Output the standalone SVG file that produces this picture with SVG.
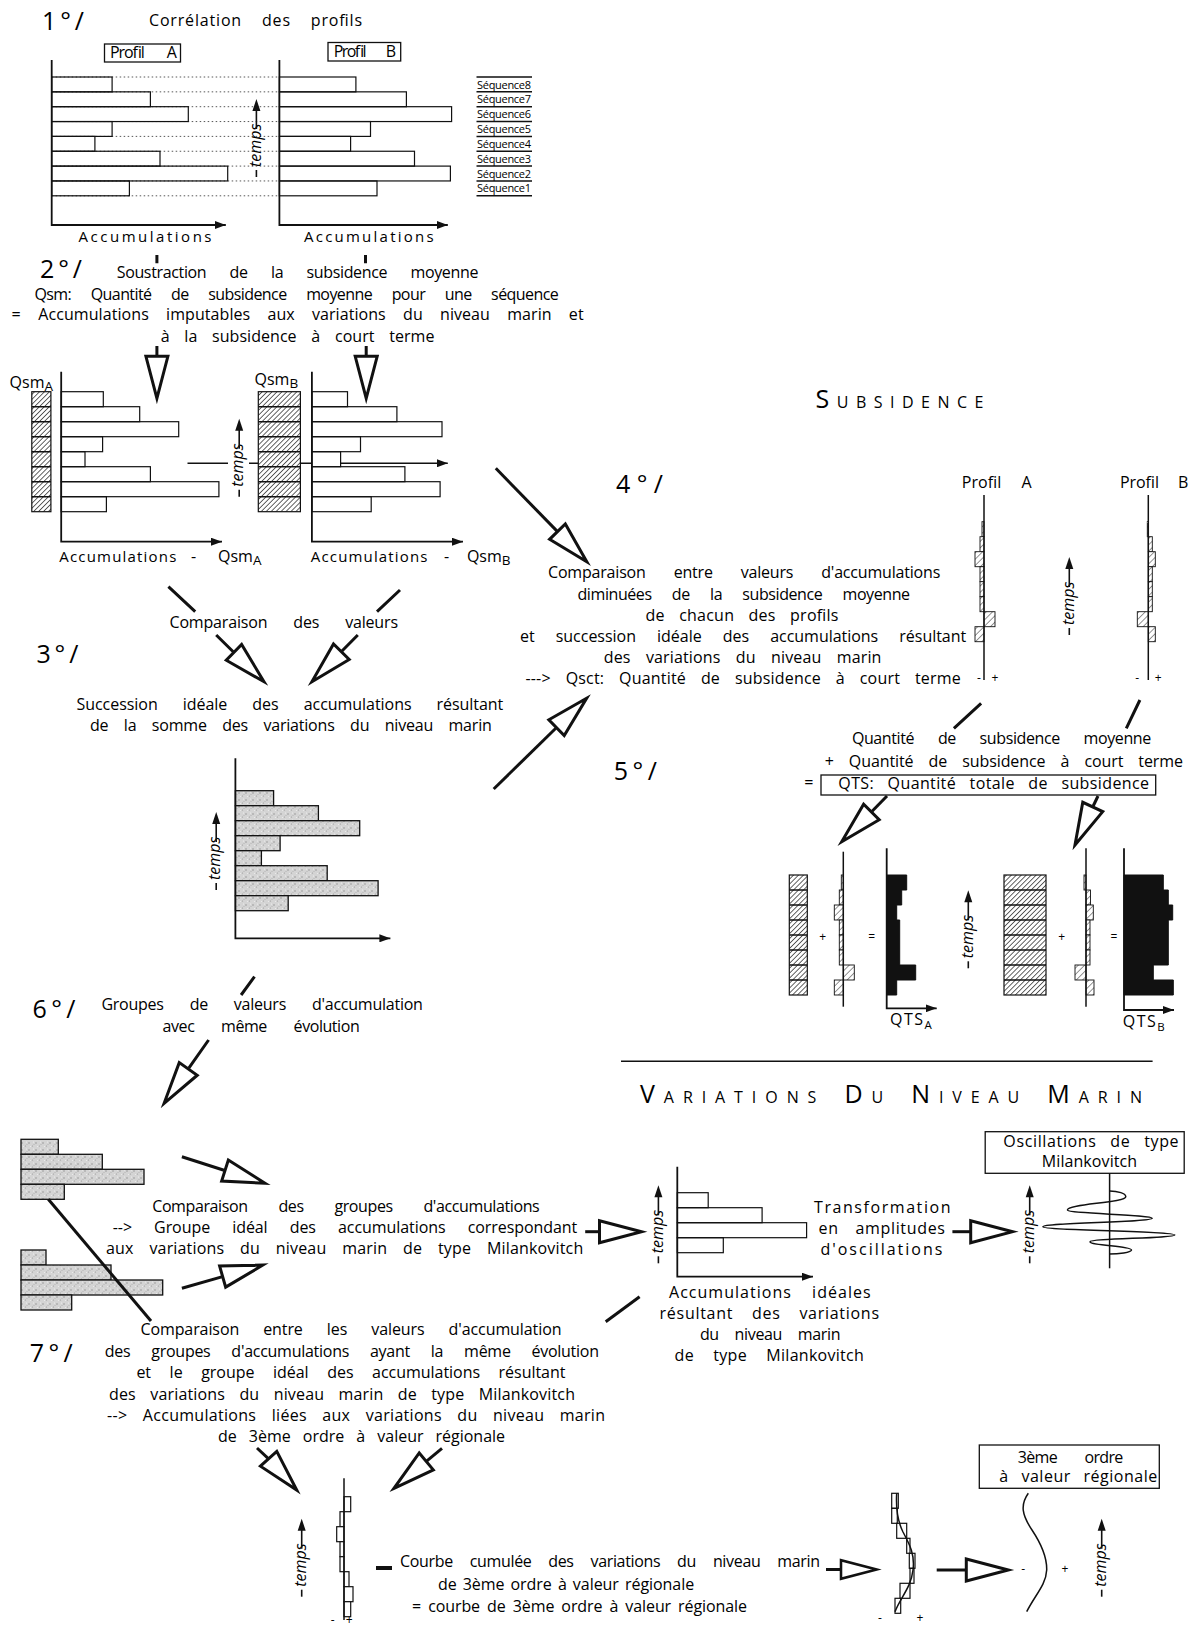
<svg xmlns="http://www.w3.org/2000/svg" width="1191" height="1628" viewBox="0 0 1191 1628">
<style>
text{font-family:'Open Sans','DejaVu Sans',sans-serif;font-size:16px;fill:#000}
.big{font-size:25px}
.s12{font-size:12px}
.s11{font-size:11px}
.acc{font-size:15px}
.ln{stroke:#111;stroke-width:1.5;fill:none}
.th{stroke:#111;stroke-width:3;fill:none}
.ax{stroke:#111;stroke-width:1.8;fill:none}
.bar{fill:none;stroke:#111;stroke-width:1.2}
.wbar{fill:#fff;stroke:#111;stroke-width:1.2}
.gbar{fill:url(#st);stroke:#111;stroke-width:1.3}
.hd{fill:url(#hd);stroke:#111;stroke-width:1.2}
.hs{fill:url(#hs);stroke:#111;stroke-width:0.9}
.dot{stroke:#444;stroke-width:0.9;stroke-dasharray:1.5 2.5;fill:none}
.box{fill:none;stroke:#111;stroke-width:1.3}
.sep{stroke:#111;stroke-width:1.6}
.blk{fill:#111;stroke:#111;stroke-width:1}
</style>
<defs>
<marker id="ar" viewBox="0 0 11 8" refX="11" refY="4" markerWidth="11" markerHeight="8" markerUnits="userSpaceOnUse" orient="auto"><path d="M0,0 L11,4 L0,8 Z" fill="#111"/></marker>
<pattern id="hd" patternUnits="userSpaceOnUse" width="3.5" height="3.5" patternTransform="rotate(45)"><rect width="3.5" height="3.5" fill="#fff"/><line x1="0" y1="0" x2="0" y2="3.5" stroke="#111" stroke-width="1.3"/></pattern>
<pattern id="hs" patternUnits="userSpaceOnUse" width="4.5" height="4.5" patternTransform="rotate(45)"><rect width="4.5" height="4.5" fill="#fff"/><line x1="0" y1="0" x2="0" y2="4.5" stroke="#111" stroke-width="0.9"/></pattern>
<pattern id="st" patternUnits="userSpaceOnUse" width="7" height="7"><rect width="7" height="7" fill="#d4d4d4"/><circle cx="1" cy="2" r="0.7" fill="#8a8a8a"/><circle cx="4.5" cy="5" r="0.6" fill="#9a9a9a"/><circle cx="5.5" cy="1" r="0.6" fill="#f4f4f4"/><circle cx="2.5" cy="5.5" r="0.6" fill="#eee"/><circle cx="6" cy="3.5" r="0.5" fill="#aaa"/></pattern>
<g id="tp">
<line x1="0" y1="0" x2="0" y2="-7" stroke="#111" stroke-width="1.6"/>
<text transform="rotate(-90)" x="10" y="4.2" font-family="'Open Sans','DejaVu Sans',sans-serif" font-size="12" font-style="italic" fill="#111">temps</text>
<line x1="0" y1="-48" x2="0" y2="-68" stroke="#111" stroke-width="1.6"/>
<path d="M0,-78 L-4,-66 L4,-66 Z" fill="#111"/>
</g>
<polygon id="ha" points="0,0 -42,-11 -42,11" fill="#fff" stroke="#111" stroke-width="3" stroke-linejoin="miter"/>
</defs>
<rect width="1191" height="1628" fill="#fff"/>

<!-- STEP 1 -->
<g id="step1">
<text class="big" x="42" y="30" textLength="42">1°/</text>
<text x="149" y="26" textLength="213" style="word-spacing:15px">Corrélation des profils</text>
</g>
<g id="profilA1">
<rect class="box" x="104.5" y="44" width="76" height="18"/>
<text font-size="13" x="110" y="57.5" textLength="66.8" style="word-spacing:20px">Profil A</text>
<g class="dot">
<path d="M51.7,77H279.4M51.7,91.85H279.4M51.7,106.7H279.4M51.7,121.55H279.4M51.7,136.4H279.4M51.7,151.25H279.4M51.7,166.1H279.4M51.7,180.95H279.4M51.7,195.8H279.4"/>
</g>
<g class="bar">
<rect x="51.7" y="77" width="60.4" height="14.85"/>
<rect x="51.7" y="91.85" width="98.7" height="14.85"/>
<rect x="51.7" y="106.7" width="136.6" height="14.85"/>
<rect x="51.7" y="121.55" width="60.4" height="14.85"/>
<rect x="51.7" y="136.4" width="43.2" height="14.85"/>
<rect x="51.7" y="151.25" width="108.3" height="14.85"/>
<rect x="51.7" y="166.1" width="176" height="14.85"/>
<rect x="51.7" y="180.95" width="77.7" height="14.85"/>
</g>
<path class="ax" d="M51.7,60V225H225.8" marker-end="url(#ar)"/>
<text class="acc" x="78.5" y="242.3" textLength="133">Accumulations</text>
</g>
<g id="profilB1">
<rect class="box" x="328" y="42.5" width="72.7" height="18.5"/>
<text font-size="13" x="333.7" y="56.5" textLength="62.3" style="word-spacing:18px">Profil B</text>
<g class="bar">
<rect x="279.4" y="77" width="76.5" height="14.85"/>
<rect x="279.4" y="91.85" width="127" height="14.85"/>
<rect x="279.4" y="106.7" width="172.2" height="14.85"/>
<rect x="279.4" y="121.55" width="91.1" height="14.85"/>
<rect x="279.4" y="136.4" width="71.2" height="14.85"/>
<rect x="279.4" y="151.25" width="135.1" height="14.85"/>
<rect x="279.4" y="166.1" width="171" height="14.85"/>
<rect x="279.4" y="180.95" width="97.6" height="14.85"/>
</g>
<path class="ax" d="M279.4,60V225H447.8" marker-end="url(#ar)"/>
<text class="acc" x="304" y="242.3" textLength="129.6">Accumulations</text>
<use href="#tp" x="256.4" y="177"/>
</g>
<g id="sequences">
<path class="ln" stroke-width="1.3" d="M476.5,77H532M476.5,91.85H532M476.5,106.7H532M476.5,121.55H532M476.5,136.4H532M476.5,151.25H532M476.5,166.1H532M476.5,180.95H532M476.5,195.8H532"/>
<text class="s11" x="477" y="88.5" textLength="54">Séquence8</text>
<text class="s11" x="477" y="103.3" textLength="54">Séquence7</text>
<text class="s11" x="477" y="118.2" textLength="54">Séquence6</text>
<text class="s11" x="477" y="133" textLength="54">Séquence5</text>
<text class="s11" x="477" y="147.9" textLength="54">Séquence4</text>
<text class="s11" x="477" y="162.7" textLength="54">Séquence3</text>
<text class="s11" x="477" y="177.6" textLength="54">Séquence2</text>
<text class="s11" x="477" y="192.4" textLength="54">Séquence1</text>
</g>

<!-- STEP 2 -->
<g id="step2">
<text class="big" x="40" y="277.5" textLength="42">2°/</text>
<text x="116.7" y="278.3" textLength="361.7" style="word-spacing:19.5px">Soustraction de la subsidence moyenne</text>
<text x="34.4" y="299.8" textLength="524.3" style="word-spacing:16px">Qsm: Quantité de subsidence moyenne pour une séquence</text>
<text x="11.5" y="320">=</text>
<text x="38.3" y="320" textLength="545.3" style="word-spacing:13px">Accumulations imputables aux variations du niveau marin et</text>
<text x="160.7" y="341.7" textLength="273.7" style="word-spacing:10.5px">à la subsidence à court terme</text>
</g>
<g id="profilA2">
<text x="9.6" y="388.3" font-size="16">Qsm<tspan font-size="13.5" dy="3">A</tspan></text>
<rect class="hd" x="31.8" y="391.7" width="19.1" height="120"/>
<path class="ln" d="M31.8,406.7H50.9M31.8,421.7H50.9M31.8,436.7H50.9M31.8,451.7H50.9M31.8,466.7H50.9M31.8,481.7H50.9M31.8,496.7H50.9"/>
<g class="bar">
<rect x="61.2" y="391.7" width="42.1" height="15"/>
<rect x="61.2" y="406.7" width="78.5" height="15"/>
<rect x="61.2" y="421.7" width="117.5" height="15"/>
<rect x="61.2" y="436.7" width="41.4" height="15"/>
<rect x="61.2" y="451.7" width="23.8" height="15"/>
<rect x="61.2" y="466.7" width="89.2" height="15"/>
<rect x="61.2" y="481.7" width="157.7" height="15"/>
<rect x="61.2" y="496.7" width="45.2" height="15"/>
</g>
<path class="ax" d="M61.2,371.7V541.7H222" marker-end="url(#ar)"/>
<text class="acc" x="59.3" y="561.7" textLength="117">Accumulations</text>
<text x="191" y="561.7">-</text>
<text x="218" y="561.7" font-size="16">Qsm<tspan font-size="13.5" dy="3.5">A</tspan></text>
<use href="#tp" x="239.2" y="496.7"/>
</g>
<g id="profilB2">
<text x="254.5" y="385" font-size="16">Qsm<tspan font-size="13.5" dy="3">B</tspan></text>
<rect class="hd" x="258.3" y="391.7" width="42.1" height="120"/>
<path class="ln" d="M258.3,406.7H300.4M258.3,421.7H300.4M258.3,436.7H300.4M258.3,451.7H300.4M258.3,466.7H300.4M258.3,481.7H300.4M258.3,496.7H300.4"/>
<g class="bar">
<rect x="311.9" y="391.7" width="35.6" height="15"/>
<rect x="311.9" y="406.7" width="85" height="15"/>
<rect x="311.9" y="421.7" width="130.1" height="15"/>
<rect x="311.9" y="436.7" width="48.6" height="15"/>
<rect x="311.9" y="451.7" width="28.7" height="15"/>
<rect x="311.9" y="466.7" width="93" height="15"/>
<rect x="311.9" y="481.7" width="128.2" height="15"/>
<rect x="311.9" y="496.7" width="59.3" height="15"/>
</g>
<path class="ax" d="M311.9,371.7V541.7H463" marker-end="url(#ar)"/>
<text class="acc" x="310.8" y="561.7" textLength="116.7">Accumulations</text>
<text x="444" y="561.7">-</text>
<text x="466.9" y="561.7" font-size="16">Qsm<tspan font-size="13.5" dy="3.5">B</tspan></text>
</g>

<!-- STEP 3 -->
<g id="step3">
<text x="169.5" y="628.3" textLength="228.5" style="word-spacing:22px">Comparaison des valeurs</text>
<text class="big" x="36.4" y="663.3" textLength="42">3°/</text>
<text x="76.5" y="710" textLength="426.8" style="word-spacing:21px">Succession idéale des accumulations résultant</text>
<text x="90" y="731" textLength="401.8" style="word-spacing:11.5px">de la somme des variations du niveau marin</text>
</g>
<g id="ideal3">
<g class="gbar">
<rect x="235.4" y="790.7" width="38.2" height="15"/>
<rect x="235.4" y="805.7" width="83" height="15"/>
<rect x="235.4" y="820.7" width="124.3" height="15"/>
<rect x="235.4" y="835.7" width="44.7" height="15"/>
<rect x="235.4" y="850.7" width="26" height="15"/>
<rect x="235.4" y="865.7" width="91.8" height="15"/>
<rect x="235.4" y="880.7" width="142.7" height="15"/>
<rect x="235.4" y="895.7" width="52.8" height="15"/>
</g>
<path class="ax" d="M235.4,758.3V938.3H390.4" marker-end="url(#ar)"/>
<use href="#tp" x="216.2" y="890"/>
</g>

<!-- STEP 4 -->
<g id="subsidence-title">
<text x="815.6" y="408.3" font-size="19" textLength="167.8"><tspan font-size="25">S</tspan>UBSIDENCE</text>
</g>
<g id="step4">
<text class="big" x="616" y="493.3" textLength="47">4°/</text>
<text x="548" y="578.3" textLength="392.3" style="word-spacing:24px">Comparaison entre valeurs d'accumulations</text>
<text x="577.5" y="600" textLength="332.5" style="word-spacing:16.5px">diminuées de la subsidence moyenne</text>
<text x="645.5" y="620.7" textLength="192.8" style="word-spacing:10px">de chacun des profils</text>
<text x="520" y="641.7" textLength="446.2" style="word-spacing:17px">et succession idéale des accumulations résultant</text>
<text x="603.8" y="662.7" textLength="277.6" style="word-spacing:11px">des variations du niveau marin</text>
<text x="525.4" y="684.3" textLength="435.3" style="word-spacing:10.5px">---&gt; Qsct: Quantité de subsidence à court terme</text>
</g>
<g id="qsctA4">
<text x="961.7" y="488.3" textLength="70" style="word-spacing:16px">Profil A</text>
<g class="hs">
<rect x="982" y="521.7" width="2" height="15"/>
<rect x="980" y="536.7" width="4" height="15"/>
<rect x="975" y="551.7" width="9" height="15"/>
<rect x="980" y="566.7" width="4" height="15"/>
<rect x="980" y="581.7" width="4" height="15"/>
<rect x="980" y="596.7" width="4" height="15"/>
<rect x="984" y="611.7" width="11" height="15"/>
<rect x="975" y="626.7" width="9" height="15"/>
</g>
<line class="ln" x1="984" y1="495" x2="984" y2="680"/>
<text class="s12" x="979" y="681.7" text-anchor="middle">-</text>
<text class="s12" x="995" y="681.7" text-anchor="middle">+</text>
</g>
<g id="qsctB4">
<text x="1120" y="488.3" textLength="68.3" style="word-spacing:15px">Profil B</text>
<g class="hs">
<rect x="1147.3" y="521.7" width="1" height="15"/>
<rect x="1148.3" y="536.7" width="4" height="15"/>
<rect x="1148.3" y="551.7" width="7" height="15"/>
<rect x="1148.3" y="566.7" width="4" height="15"/>
<rect x="1148.3" y="581.7" width="4" height="15"/>
<rect x="1148.3" y="596.7" width="4" height="15"/>
<rect x="1137.3" y="611.7" width="11" height="15"/>
<rect x="1148.3" y="626.7" width="7" height="15"/>
</g>
<line class="ln" x1="1148.3" y1="495" x2="1148.3" y2="680"/>
<text class="s12" x="1137.3" y="681.7" text-anchor="middle">-</text>
<text class="s12" x="1158.3" y="681.7" text-anchor="middle">+</text>
<use href="#tp" x="1069.3" y="635"/>
</g>

<!-- STEP 5 -->
<g id="step5">
<text class="big" x="613.8" y="780" textLength="43">5°/</text>
<text x="851.9" y="744.3" textLength="299.3" style="word-spacing:20px">Quantité de subsidence moyenne</text>
<text x="824.7" y="766.7" textLength="358.3" style="word-spacing:11px">+ Quantité de subsidence à court terme</text>
<text x="804.3" y="788.3">=</text>
<rect class="box" x="821" y="775" width="334.7" height="20" stroke-width="1"/>
<text x="838.3" y="788.8" textLength="310.7" style="word-spacing:9px">QTS: Quantité totale de subsidence</text>
</g>
<g id="qtsA">
<rect class="hd" x="789.3" y="875" width="18" height="120"/>
<path class="ln" d="M789.3,890H807.3M789.3,905H807.3M789.3,920H807.3M789.3,935H807.3M789.3,950H807.3M789.3,965H807.3M789.3,980H807.3"/>
<text class="s12" x="822.7" y="941" text-anchor="middle">+</text>
<g class="hs">
<rect x="841.3" y="875" width="2" height="15"/>
<rect x="839.3" y="890" width="4" height="15"/>
<rect x="834.3" y="905" width="9" height="15"/>
<rect x="839.3" y="920" width="4" height="15"/>
<rect x="839.3" y="935" width="4" height="15"/>
<rect x="839.3" y="950" width="4" height="15"/>
<rect x="843.3" y="965" width="11" height="15"/>
<rect x="834.3" y="980" width="9" height="15"/>
</g>
<line class="ln" x1="843.3" y1="851.7" x2="843.3" y2="1006.7"/>
<text class="s12" x="871.7" y="941" text-anchor="middle">=</text>
<path class="blk" d="M886.7,875H906.7V890H901.7V905H896.7V920H899.7V965H915.7V980H896.7V995H886.7Z"/>
<path class="ax" d="M886.7,848.3V1008.3H936.7" marker-end="url(#ar)"/>
<text x="890" y="1025" font-size="12.5" letter-spacing="1.5">QTS<tspan font-size="11.5" dy="4">A</tspan></text>
<use href="#tp" x="968.3" y="968.3"/>
</g>
<g id="qtsB">
<rect class="hd" x="1004" y="875" width="42" height="120"/>
<path class="ln" d="M1004,890H1046M1004,905H1046M1004,920H1046M1004,935H1046M1004,950H1046M1004,965H1046M1004,980H1046"/>
<text class="s12" x="1061.7" y="941" text-anchor="middle">+</text>
<g class="hs">
<rect x="1084" y="875" width="2" height="15"/>
<rect x="1086" y="890" width="4.5" height="15"/>
<rect x="1086" y="905" width="7.3" height="15"/>
<rect x="1086" y="920" width="4" height="15"/>
<rect x="1086" y="935" width="4" height="15"/>
<rect x="1086" y="950" width="4" height="15"/>
<rect x="1075" y="965" width="11" height="15"/>
<rect x="1086" y="980" width="8" height="15"/>
</g>
<line class="ln" x1="1086" y1="848.3" x2="1086" y2="1006.7"/>
<text class="s12" x="1114" y="941" text-anchor="middle">=</text>
<path class="blk" d="M1124,875H1163.3V890H1168.3V905H1172.7V920H1168.3V965H1153.3V980H1173.3V995H1124Z"/>
<path class="ax" d="M1124,848.3V1010H1174" marker-end="url(#ar)"/>
<text x="1122.7" y="1026.7" font-size="12.5" letter-spacing="1.5">QTS<tspan font-size="11.5" dy="4">B</tspan></text>
</g>

<!-- STEP 6 -->
<g id="step6">
<text class="big" x="32.5" y="1018.3" textLength="43">6°/</text>
<text x="101.4" y="1010" textLength="321.5" style="word-spacing:22px">Groupes de valeurs d'accumulation</text>
<text x="162.6" y="1031.7" textLength="197.1" style="word-spacing:23px">avec même évolution</text>
</g>
<line class="sep" x1="621" y1="1061.2" x2="1152.6" y2="1061.2"/>
<g id="variations-title">
<text x="640" y="1103" font-size="19" textLength="502" style="word-spacing:6px"><tspan font-size="25">V</tspan>ARIATIONS <tspan font-size="25">D</tspan>U <tspan font-size="25">N</tspan>IVEAU <tspan font-size="25">M</tspan>ARIN</text>
</g>
<g id="group1">
<g class="gbar">
<rect x="21" y="1139.3" width="37.3" height="15"/>
<rect x="21" y="1154.3" width="81.3" height="15"/>
<rect x="21" y="1169.3" width="123" height="15"/>
<rect x="21" y="1184.3" width="43.3" height="15"/>
</g>
</g>
<g id="group2">
<g class="gbar">
<rect x="21" y="1250" width="25" height="15"/>
<rect x="21" y="1265" width="90" height="15"/>
<rect x="21" y="1280" width="141.7" height="15"/>
<rect x="21" y="1295" width="50.7" height="15"/>
</g>
</g>
<g id="comparaison6">
<text x="152.2" y="1211.7" textLength="387.5" style="word-spacing:27px">Comparaison des groupes d'accumulations</text>
<text x="112.7" y="1233.3" textLength="464.6" style="word-spacing:18px">--&gt; Groupe idéal des accumulations correspondant</text>
<text x="106" y="1254" textLength="477.2" style="word-spacing:11.5px">aux variations du niveau marin de type Milankovitch</text>
</g>
<g id="milankovitch-acc">
<g class="bar">
<rect x="677.3" y="1192.7" width="30.9" height="15"/>
<rect x="677.3" y="1207.7" width="84.8" height="15"/>
<rect x="677.3" y="1222.7" width="129.3" height="15"/>
<rect x="677.3" y="1237.7" width="46" height="15"/>
</g>
<path class="ax" d="M677.3,1166.7V1276.7H813" marker-end="url(#ar)"/>
<use href="#tp" x="658.4" y="1263.3"/>
<text x="669" y="1298.3" textLength="201.6" style="word-spacing:15px">Accumulations idéales</text>
<text x="659.6" y="1319.3" textLength="219.4" style="word-spacing:14px">résultant des variations</text>
<text x="699.9" y="1340" textLength="140.6" style="word-spacing:12px">du niveau marin</text>
<text x="674.6" y="1361" textLength="189.2" style="word-spacing:15px">de type Milankovitch</text>
</g>
<g id="transformation">
<text x="814" y="1212.7" textLength="136.5">Transformation</text>
<text x="818.6" y="1234" textLength="126.3" style="word-spacing:12px">en amplitudes</text>
<text x="820.5" y="1255" textLength="121.8">d'oscillations</text>
</g>
<g id="oscillations">
<rect class="box" x="985.2" y="1131.7" width="199" height="41.6" stroke-width="1"/>
<text x="1003.3" y="1147.2" textLength="175.3" style="word-spacing:9px">Oscillations de type</text>
<text x="1041.8" y="1167.2" textLength="95.3">Milankovitch</text>
<line class="ln" x1="1109.6" y1="1173.3" x2="1109.6" y2="1268.3"/>
<path class="ln" d="M1109.6,1191 C1118,1191 1125.8,1193.5 1125.8,1196.7 C1125.8,1202.7 1067.4,1204 1067.4,1210 C1067.4,1213.7 1152.2,1214.6 1152.2,1218.3 C1152.2,1222.1 1042.9,1222.9 1042.9,1226.7 C1042.9,1230.4 1174.8,1231.3 1174.8,1235 C1174.8,1238 1090,1238.7 1090,1241.7 C1090,1245.4 1131.5,1246.3 1131.5,1250 C1131.5,1252.5 1118,1254 1109.6,1254"/>
<use href="#tp" x="1029.7" y="1263.3"/>
</g>

<!-- STEP 7 -->
<g id="step7">
<text x="140.4" y="1335" textLength="421.1" style="word-spacing:20px">Comparaison entre les valeurs d'accumulation</text>
<text class="big" x="29.7" y="1361.7" textLength="43">7°/</text>
<text x="104.8" y="1356.7" textLength="494.2" style="word-spacing:17px">des groupes d'accumulations ayant la même évolution</text>
<text x="136.4" y="1378.3" textLength="429" style="word-spacing:14.5px">et le groupe idéal des accumulations résultant</text>
<text x="109" y="1400" textLength="466" style="word-spacing:10px">des variations du niveau marin de type Milankovitch</text>
<text x="107" y="1421" textLength="498" style="word-spacing:11px">--&gt; Accumulations liées aux variations du niveau marin</text>
<text x="218" y="1442" textLength="287" style="word-spacing:8px">de 3ème ordre à valeur régionale</text>
</g>
<g id="column7">
<g class="wbar">
<rect x="344" y="1496.7" width="6.7" height="15"/>
<rect x="340" y="1511.7" width="4" height="15"/>
<rect x="336.7" y="1526.7" width="7.3" height="15"/>
<rect x="340" y="1541.7" width="4" height="15"/>
<rect x="340" y="1556.7" width="4" height="15"/>
<rect x="344" y="1571.7" width="5" height="15"/>
<rect x="344" y="1586.7" width="9" height="15"/>
<rect x="344" y="1601.7" width="6.7" height="15"/>
</g>
<line class="ln" x1="344" y1="1478.3" x2="344" y2="1620"/>
<text class="s12" x="332.7" y="1624" text-anchor="middle">-</text>
<text class="s12" x="349.3" y="1624" text-anchor="middle">+</text>
<use href="#tp" x="301.7" y="1596.7"/>
<rect x="376" y="1566" width="16" height="4" fill="#111"/>
</g>
<g id="courbe">
<text x="400" y="1566.7" textLength="420" style="word-spacing:13px">Courbe cumulée des variations du niveau marin</text>
<text x="437.9" y="1590" textLength="256.3" style="word-spacing:2px">de 3ème ordre à valeur régionale</text>
<text x="412" y="1611.7" textLength="335" style="word-spacing:3px">= courbe de 3ème ordre à valeur régionale</text>
</g>
<g id="cumulative">
<g class="bar" stroke-width="0.9">
<rect x="891.7" y="1493.3" width="6.6" height="15"/>
<rect x="891.7" y="1508.3" width="5.6" height="15"/>
<rect x="896.7" y="1523.3" width="10" height="15"/>
<rect x="906.7" y="1538.3" width="3.3" height="15"/>
<rect x="909.3" y="1553.3" width="5.7" height="15"/>
<rect x="910" y="1568.3" width="4" height="15"/>
<rect x="900" y="1583.3" width="10" height="15"/>
<rect x="895" y="1598.3" width="5.7" height="15"/>
</g>
<path class="ln" stroke-width="2" d="M896.7,1493.3 C896,1505 897,1520 903,1532 C910,1545 915,1555 913,1570 C911,1588 900,1598 895,1611.7"/>
<text class="s12" x="880" y="1621.7" text-anchor="middle">-</text>
<text class="s12" x="920" y="1621.7" text-anchor="middle">+</text>
</g>
<g id="regional">
<rect class="box" x="979.3" y="1445" width="180" height="43.3" stroke-width="1.2"/>
<text x="1017.7" y="1463" textLength="105.6" style="word-spacing:24px">3ème ordre</text>
<text x="999.3" y="1482" textLength="158" style="word-spacing:8px">à valeur régionale</text>
<path class="ln" d="M1028.3,1493.3 C1020,1505 1022,1515 1032,1530 C1042,1545 1047,1558 1046.7,1570 C1046,1585 1035,1595 1026.7,1611.7"/>
<text class="s12" x="1023.3" y="1572.7" text-anchor="middle">-</text>
<text class="s12" x="1065" y="1572.7" text-anchor="middle">+</text>
<use href="#tp" x="1101.7" y="1596.7"/>
</g>

<!-- CONNECTORS -->
<g id="connectors">
<path class="th" d="M156.9,255V263.3M365.5,255V263.3M156.9,346V356.3M366.2,346V356.3"/>
<use href="#ha" transform="translate(156.9,398.3) rotate(90)"/>
<use href="#ha" transform="translate(366.2,398.3) rotate(90)"/>
<path class="ln" d="M187.5,463.3H228M249,463.3H258.3M300.4,463.3H311.9"/>
<path class="ln" d="M340.6,463.3H447.8" marker-end="url(#ar)"/>
<path class="th" d="M495.8,468.3L556.8,530.9"/>
<use href="#ha" transform="translate(586.8,561.7) rotate(45.7)"/>
<path class="th" d="M168.4,586.7L195.2,611.7M216.2,635L233.2,651.7"/>
<use href="#ha" transform="translate(264,681.7) rotate(44.3)"/>
<path class="th" d="M400,590L377,611.7M357.8,635L342,651"/>
<use href="#ha" transform="translate(311.9,681.7) rotate(134.5)"/>
<path class="th" d="M493.7,789L555.8,728.3"/>
<use href="#ha" transform="translate(586.6,698.3) rotate(-44.3)"/>
<path class="th" d="M254.5,976.7L241.1,995M208.6,1040L188.8,1068.1"/>
<use href="#ha" transform="translate(164.1,1103.3) rotate(125.1)"/>
<path class="th" d="M981.1,703.3L953.9,728.3M1139.9,700L1126.3,728.3"/>
<path class="th" d="M887,796L872.1,811.3"/>
<use href="#ha" transform="translate(841.7,841.7) rotate(135)"/>
<path class="th" d="M1098,796L1093.2,806"/>
<use href="#ha" transform="translate(1075,845) rotate(115)"/>
<path class="th" d="M181.9,1156.7L224,1170.2"/>
<use href="#ha" transform="translate(265,1183.3) rotate(17.7)"/>
<path class="th" d="M181.9,1288.3L221.7,1276.9"/>
<use href="#ha" transform="translate(263,1265) rotate(-16)"/>
<path class="th" d="M48.3,1199.3L151,1321"/>
<path class="th" d="M585.2,1231.7H600"/>
<use href="#ha" transform="translate(641.5,1231.7)"/>
<path class="th" d="M952.4,1231.7H971"/>
<use href="#ha" transform="translate(1012.7,1231.7)"/>
<path class="th" d="M639.6,1296.7L605.7,1321.7"/>
<path class="th" d="M257,1448L268.6,1458.8"/>
<use href="#ha" transform="translate(296.7,1490) rotate(48)"/>
<path class="th" d="M442,1448.3L426.3,1461.4"/>
<use href="#ha" transform="translate(394,1488.3) rotate(140.2)"/>
<path class="th" d="M826,1569.5H841"/>
<use href="#ha" transform="translate(876.7,1569.5) scale(0.85)"/>
<path class="th" d="M936.7,1570H966.7"/>
<use href="#ha" transform="translate(1008.3,1570)"/>
</g>
</svg>
